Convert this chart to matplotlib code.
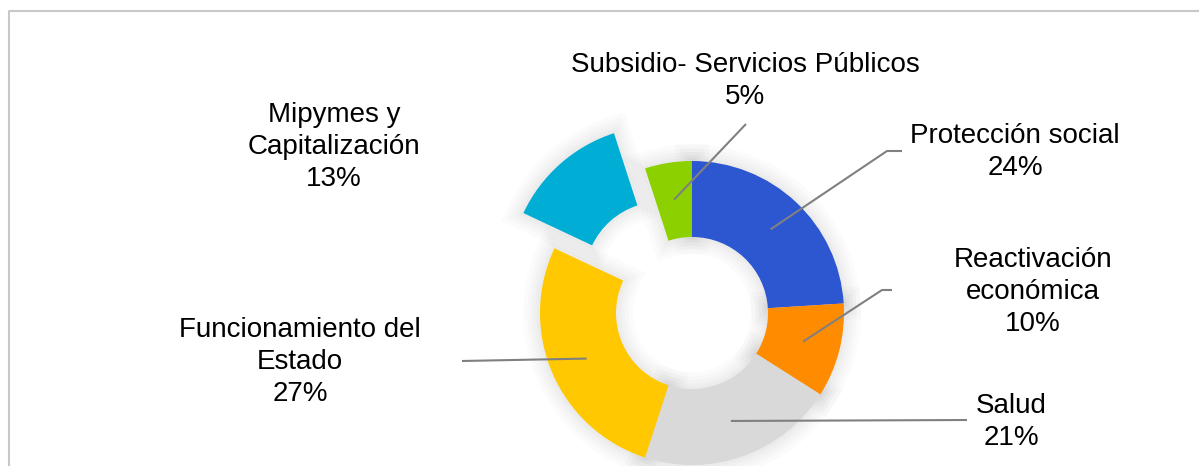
import numpy as np
import matplotlib
matplotlib.use('Agg')
import matplotlib.pyplot as plt
from matplotlib.patches import Wedge

plt.rcParams['font.family'] = ['Liberation Sans', 'DejaVu Sans']

# Data (clockwise from 12 o'clock)
categories = ['Protección social', 'Reactivación\neconómica', 'Salud',
              'Funcionamiento del\nEstado', 'Mipymes y\nCapitalización',
              'Subsidio- Servicios Públicos']
shares = [24, 10, 21, 27, 13, 5]
colors = ['#2D57D1', '#FF8C00', '#D9D9D9', '#FFC800', '#00ADD5', '#8CD000']

W, H = 1199, 466
fig = plt.figure(figsize=(W / 100, H / 100), dpi=100)
ax = fig.add_axes([0, 0, 1, 1])

# work in pixel-like units, y measured from bottom
cx, cy, R = 692, H - 313, 152
explode = [47 if c.startswith('Mipymes') else 0 for c in categories]

wedges, _ = ax.pie(shares, colors=colors, startangle=90, counterclock=False,
                   radius=R, center=(cx, cy), explode=explode,
                   wedgeprops=dict(width=R * 0.5, linewidth=0, zorder=3))

# soft shadow around the ring pieces
for w in wedges:
    for lw in [24, 18, 13, 8, 4]:
        ax.add_patch(Wedge(w.center, w.r, w.theta1, w.theta2, width=w.width,
                           facecolor='none', edgecolor='black', lw=lw,
                           alpha=0.016, zorder=1))

# label text centres and leader line anchor points (pixels from top)
label_xy = [(1015, 152), (1033, 292), (1011, 422), (300, 362), (334, 147), (745, 81)]
leader_end = [[(887, 151), (902, 151)], [(882, 290), (892, 290)], [(967, 420)],
              [(462, 361)], None, [(746, 124)]]

for w, cat, pct, (tx, ty), pts in zip(wedges, categories, shares, label_xy, leader_end):
    ax.text(tx, H - ty, f'{cat}\n{pct}%', ha='center', va='center',
            multialignment='center', fontsize=20, linespacing=1.32, color='#000000',
            zorder=6)
    if pts is None:
        continue
    mid = np.deg2rad((w.theta1 + w.theta2) / 2)
    sx = w.center[0] + 0.755 * R * np.cos(mid)
    sy = w.center[1] + 0.755 * R * np.sin(mid)
    xs = [sx] + [p[0] for p in pts]
    ys = [sy] + [H - p[1] for p in pts]
    ax.plot(xs, ys, color='#808080', lw=1.5, zorder=5, solid_capstyle='butt')

# chart border (top and left visible)
ax.plot([9, 9, W + 5], [-5, H - 11, H - 11], color='#C8C8C8', lw=1.5, zorder=0)

ax.set_xlim(0, W)
ax.set_ylim(0, H)
ax.set_aspect('equal')
ax.axis('off')

fig.savefig('out.png', dpi=100)
